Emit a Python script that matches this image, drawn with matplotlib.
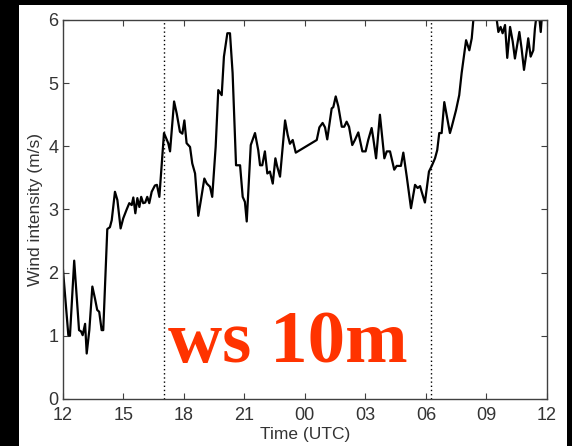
import matplotlib
matplotlib.use("Agg")
import matplotlib.pyplot as plt
from matplotlib.patches import Rectangle

# %% wind speed at 10 m, hours since 12 UTC
hours = [0.00, 0.28, 0.36, 0.57, 0.81, 0.91, 0.99, 1.11, 1.19, 1.32,
         1.47, 1.60, 1.71, 1.81, 1.93, 2.01, 2.21, 2.34, 2.43, 2.59,
         2.71, 2.87, 3.00, 3.17, 3.30, 3.42, 3.50, 3.60, 3.70, 3.80,
         3.89, 3.99, 4.09, 4.19, 4.29, 4.41, 4.57, 4.67, 4.79, 5.02,
         5.23, 5.32, 5.52, 5.65, 5.81, 5.93, 6.03, 6.14, 6.31, 6.42,
         6.56, 6.72, 6.85, 7.02, 7.14, 7.30, 7.41, 7.58, 7.71, 7.88,
         7.99, 8.16, 8.29, 8.42, 8.59, 8.79, 8.92, 9.03, 9.12, 9.32,
         9.53, 9.69, 9.78, 9.89, 10.02, 10.14, 10.27, 10.41, 10.54, 10.63,
         10.77, 11.02, 11.15, 11.26, 11.40, 11.55, 12.59, 12.72, 12.88, 13.00,
         13.11, 13.33, 13.41, 13.53, 13.66, 13.83, 13.95, 14.07, 14.19, 14.35,
         14.48, 14.65, 14.85, 15.01, 15.14, 15.31, 15.39, 15.53, 15.72, 15.94,
         16.06, 16.22, 16.43, 16.55, 16.76, 16.88, 17.05, 17.26, 17.46, 17.59,
         17.71, 17.79, 17.95, 18.15, 18.29, 18.45, 18.56, 18.66, 18.78, 18.91,
         19.19, 19.28, 19.49, 19.65, 19.77, 19.99, 20.15, 20.27, 20.35, 20.58,
         20.93, 21.27, 21.51, 21.59, 21.70, 21.80, 21.92, 22.03, 22.17, 22.30,
         22.41, 22.63, 22.74, 22.86, 22.99, 23.07, 23.19, 23.32, 23.40, 23.49,
         23.60, 23.69, 23.78, 24.00]
wind = [2.10, 1.01, 1.00, 2.19, 1.09, 1.07, 1.01, 1.19, 0.72, 1.09,
        1.78, 1.59, 1.41, 1.38, 1.09, 1.09, 2.69, 2.72, 2.83, 3.28,
        3.15, 2.70, 2.86, 3.00, 3.10, 3.07, 3.19, 2.94, 3.18, 3.04,
        3.20, 3.10, 3.11, 3.20, 3.10, 3.28, 3.38, 3.39, 3.20, 4.21,
        4.05, 3.92, 4.71, 4.52, 4.23, 4.20, 4.41, 4.05, 3.99, 3.73,
        3.57, 2.90, 3.15, 3.49, 3.41, 3.36, 3.20, 3.99, 4.89, 4.81,
        5.42, 5.79, 5.79, 5.16, 3.70, 3.70, 3.20, 3.12, 2.81, 4.02,
        4.21, 3.94, 3.70, 3.70, 3.92, 3.57, 3.60, 3.41, 3.81, 3.68,
        3.52, 4.41, 4.18, 4.04, 4.10, 3.90, 4.10, 4.30, 4.37, 4.30,
        4.11, 4.60, 4.62, 4.79, 4.63, 4.31, 4.31, 4.39, 4.31, 4.02,
        4.10, 4.22, 3.92, 3.92, 4.10, 4.29, 4.13, 3.81, 4.50, 3.81,
        3.92, 3.92, 3.63, 3.69, 3.69, 3.90, 3.52, 3.02, 3.39, 3.34,
        3.37, 3.28, 3.11, 3.60, 3.69, 3.81, 3.94, 4.21, 4.21, 4.70,
        4.21, 4.31, 4.57, 4.81, 5.16, 5.68, 5.52, 5.71, 6.00, 6.30,
        6.20, 6.30, 6.00, 5.81, 5.89, 5.79, 5.92, 5.40, 5.89, 5.66,
        5.39, 5.81, 5.55, 5.21, 5.50, 5.71, 5.42, 5.52, 5.86, 6.10,
        6.10, 5.81, 6.20, 6.20]

tick_hours = [0, 3, 6, 9, 12, 15, 18, 21, 24]
tick_labels = ['12', '15', '18', '21', '00', '03', '06', '09', '12']
period_marks = [5.0, 18.25]  # 17:00 and 06:15 UTC

plt.rcParams['font.family'] = ['Liberation Sans', 'DejaVu Sans']

fig = plt.figure(figsize=(5.72, 4.46), dpi=100, facecolor='black')
# white page inside the black frame
fig.patches.append(Rectangle((19 / 572, 0), 548 / 572, 441 / 446,
                             transform=fig.transFigure, facecolor='white',
                             edgecolor='none', zorder=-10))

ax = fig.add_axes([0.1096, 0.1054, 0.8467, 0.8498])
ax.set_facecolor('white')
ax.plot(hours, wind, color='black', lw=1.6)
for h in period_marks:
    ax.axvline(h, color='black', ls=(0, (1, 2)), lw=1.0)

ax.set_xlim(0, 24)
ax.set_ylim(0, 6)
ax.set_xticks(tick_hours)
ax.set_xticklabels(tick_labels)
ax.set_yticks(range(7))
ax.tick_params(direction='in', top=True, right=True, length=4,
               labelsize=13, colors='#404040', labelcolor='#333333', pad=3)
ax.tick_params(axis='x', pad=6)
for s in ax.spines.values():
    s.set_color('#404040')
    s.set_linewidth(1.0)

ax.set_xlabel('Time (UTC)', fontsize=12.5, color='#333333', labelpad=2)
ax.set_ylabel('Wind intensity (m/s)', fontsize=12.5, color='#333333', labelpad=4)

ax.text(5.22, 0.59, 'ws 10m', color='#ff3300', fontsize=54,
        fontweight='bold', family='Liberation Serif',
        ha='left', va='baseline')

fig.savefig('out.png', dpi=100, facecolor='black')
